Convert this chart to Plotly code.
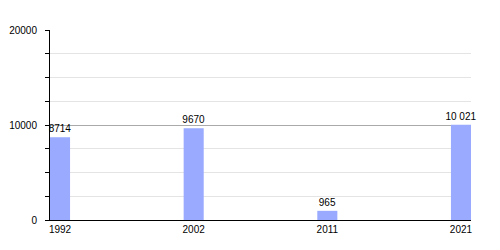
import plotly.graph_objects as go

years = ["1992", "2002", "2011", "2021"]
population = [8714, 9670, 965, 10021]
value_labels = ["8714", "9670", "965", "10 021"]
y_ticks = [0, 10000, 20000]
y_tick_labels = ["0", "10000", "20000"]

fig = go.Figure()
fig.add_trace(go.Bar(
    x=years, y=population, text=value_labels, textposition="outside",
    constraintext="none",
    textfont=dict(family="Liberation Sans, Arial", size=10, color="#000"),
    marker=dict(color="#99aaff", line=dict(width=0)),
    width=0.15, cliponaxis=False,
))
fig.update_layout(
    width=500, height=250,
    margin=dict(l=50, r=29, t=30, b=30),
    paper_bgcolor="white", plot_bgcolor="white",
    showlegend=False,
    font=dict(family="Liberation Sans, Arial", size=10, color="#000"),
    xaxis=dict(type="category", range=[-0.075, 3.075], showline=True,
               linecolor="#000", linewidth=1, ticks="", showgrid=False,
               tickfont=dict(size=10), ticklabelstandoff=0, automargin=False),
    yaxis=dict(range=[0, 20000], tickvals=y_ticks, ticktext=y_tick_labels,
               showline=True, linecolor="#000", linewidth=1,
               ticks="outside", ticklen=4, tickcolor="#000",
               showgrid=True, gridcolor="#aaaaaa", gridwidth=1,
               zeroline=False, tickfont=dict(size=10), ticklabelstandoff=6,
               automargin=False,
               minor=dict(dtick=2500, showgrid=True, gridcolor="#e4e4e4",
                          ticks="outside", ticklen=4, tickcolor="#000")),
)
fig.write_html("out.html")
